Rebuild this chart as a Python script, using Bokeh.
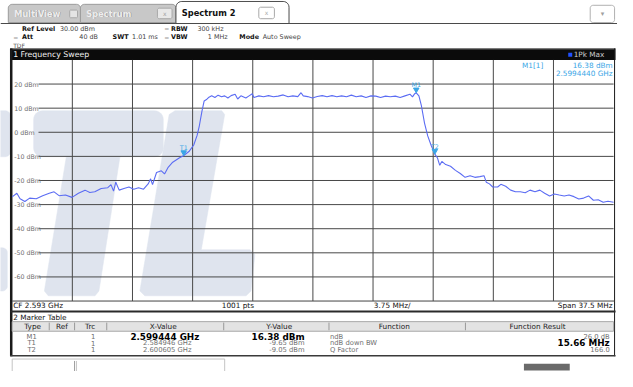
import math
from bokeh.plotting import figure
from bokeh.models import Range1d
from bokeh.embed import file_html
from bokeh.resources import INLINE
from bokeh.core.properties import value

# ---------------- data ----------------
freq_mhz = [
    2574.25, 2574.54, 2574.74, 2575.04, 2575.34, 2575.75, 2576.15, 2576.56, 2576.86, 2577.17,
    2577.57, 2577.98, 2578.38, 2578.79, 2579.09, 2579.40, 2579.80, 2580.21, 2580.41, 2580.57,
    2580.71, 2580.92, 2581.22, 2581.53, 2581.83, 2582.13, 2582.44, 2582.74, 2582.88, 2583.00,
    2583.25, 2583.55, 2583.75, 2583.96, 2584.26, 2584.66, 2584.946, 2585.27, 2585.57, 2585.78,
    2585.92, 2586.08, 2586.22, 2586.39, 2586.49, 2586.69, 2586.89, 2587.09, 2587.30, 2587.50,
    2587.70, 2587.90, 2588.15, 2588.31, 2588.51, 2588.82, 2589.02, 2589.22, 2589.32, 2589.63,
    2589.93, 2590.23, 2590.54, 2590.84, 2591.15, 2591.45, 2591.75, 2592.06, 2592.26, 2592.40,
    2592.67, 2592.97, 2593.27, 2593.58, 2593.88, 2594.19, 2594.49, 2594.79, 2595.10, 2595.40,
    2595.70, 2596.01, 2596.31, 2596.62, 2596.92, 2597.22, 2597.53, 2597.83, 2598.14, 2598.44,
    2598.74, 2599.05, 2599.21, 2599.35, 2599.444, 2599.61, 2599.76, 2599.96, 2600.16, 2600.37,
    2600.605, 2600.77, 2600.91, 2601.04, 2601.28, 2601.58, 2601.89, 2602.19, 2602.49, 2602.80,
    2603.10, 2603.41, 2603.67, 2603.81, 2604.01, 2604.21, 2604.52, 2604.72, 2605.02, 2605.33,
    2605.63, 2605.93, 2606.24, 2606.54, 2606.85, 2607.15, 2607.45, 2607.76, 2608.06, 2608.36,
    2608.67, 2608.97, 2609.28, 2609.58, 2609.88, 2610.19, 2610.49, 2610.79, 2611.10, 2611.40,
    2611.75,
]
level_dbm = [
    -26.8, -25.3, -27.6, -28.7, -27.3, -27.6, -26.3, -25.3, -24.7, -26.3,
    -26.0, -27.0, -25.3, -24.0, -25.0, -24.7, -23.3, -23.0, -21.7, -24.4,
    -20.7, -24.0, -23.3, -22.7, -23.6, -23.0, -23.6, -21.3, -19.3, -21.7,
    -16.7, -16.0, -17.3, -14.7, -12.4, -10.7, -9.65, -8.0, -5.3, -1.3,
    2.7, 8.7, 13.0, 13.7, 14.4, 15.1, 14.4, 15.4, 14.7, 15.1,
    14.2, 15.2, 15.8, 13.8, 15.1, 14.2, 15.1, 16.0, 14.4, 15.1,
    14.7, 15.2, 14.7, 15.0, 15.5, 14.7, 15.1, 14.8, 16.4, 15.1,
    14.8, 14.2, 14.8, 15.2, 14.7, 15.2, 14.7, 15.1, 14.7, 15.4,
    14.7, 15.1, 14.4, 15.1, 15.0, 14.4, 15.0, 14.7, 15.0, 14.4,
    15.1, 15.8, 14.7, 16.0, 16.38, 15.1, 11.2, 3.8, -1.5, -5.4,
    -9.05, -10.7, -13.7, -12.1, -13.4, -14.1, -15.8, -17.1, -18.7, -18.0,
    -18.7, -18.4, -18.0, -20.7, -21.4, -22.7, -22.7, -21.6, -22.4, -24.0,
    -24.7, -24.7, -25.1, -24.0, -24.7, -24.0, -25.3, -26.4, -25.6, -26.0,
    -26.4, -26.0, -26.7, -27.7, -27.3, -26.4, -28.2, -28.0, -29.0, -28.6,
    -29.0,
]

center_mhz = 2593.0
span_mhz = 37.5
div_mhz = 3.75
ref_level_dbm = 30.0
bottom_level_dbm = -70.0
y_tick_values = [20, 10, 0, -10, -20, -30, -40, -50, -60]
y_tick_labels = ["20 dBm", "10 dBm", "0 dBm", "-10 dBm", "-20 dBm", "-30 dBm",
                 "-40 dBm", "-50 dBm", "-60 dBm"]

marker_names = ["M1", "T1", "T2"]
marker_freq_mhz = [2599.444, 2584.946, 2600.605]
marker_level_dbm = [16.38, -9.65, -9.05]

table_type = ["M1", "T1", "T2"]
table_trc = ["1", "1", "1"]
table_x = ["2.599444 GHz", "2.584946 GHz", "2.600605 GHz"]
table_y = ["16.38 dBm", "-9.65 dBm", "-9.05 dBm"]
table_func = ["ndB", "ndB down BW", "Q Factor"]
table_result = ["26.0 dB", "15.66 MHz", "166.0"]
table_bold = [True, False, False]
result_bold = [False, True, False]

# ---------------- layout (reference pixel frame) ----------------
W_REF, H_REF = 633, 387
PX0, PX1, PY0, PY1 = 12.0, 629.0, 62.0, 313.5
f_lo = center_mhz - span_mhz / 2
f_hi = center_mhz + span_mhz / 2
sx = span_mhz / (PX1 - PX0)
sy = (ref_level_dbm - bottom_level_dbm) / (PY1 - PY0)

p = figure(width=617, height=371, x_range=Range1d(0, W_REF), y_range=Range1d(H_REF, 0),
           output_backend="svg", toolbar_location=None, x_axis_type=None, y_axis_type=None,
           min_border=0, outline_line_color=None,
           background_fill_color="white", border_fill_color="white")
p.grid.visible = False
p.extra_x_ranges = {"f": Range1d(f_lo - PX0 * sx, f_hi + (W_REF - PX1) * sx)}
p.extra_y_ranges = {"db": Range1d(bottom_level_dbm - (H_REF - PY1) * sy,
                                  ref_level_dbm + PY0 * sy)}

FONT = value("DejaVu Sans")


def txt(x, y, s, size=7.0, color="#333333", bold=False, align="left", baseline="middle"):
    p.text(x=[x], y=[y], text=[s], text_font=FONT, text_font_size=f"{size}px",
           text_font_style="bold" if bold else "normal", text_color=color,
           text_align=align, text_baseline=baseline)


def rrect(x0, y0, x1, y1, r, corners=(1, 1, 1, 1)):
    pts = []

    def arc(cx, cy, a0, a1):
        for k in range(7):
            a = math.radians(a0 + (a1 - a0) * k / 6)
            pts.append((cx + r * math.cos(a), cy + r * math.sin(a)))
    if corners[0]:
        arc(x0 + r, y0 + r, 180, 270)
    else:
        pts.append((x0, y0))
    if corners[1]:
        arc(x1 - r, y0 + r, 270, 360)
    else:
        pts.append((x1, y0))
    if corners[2]:
        arc(x1 - r, y1 - r, 0, 90)
    else:
        pts.append((x1, y1))
    if corners[3]:
        arc(x0 + r, y1 - r, 90, 180)
    else:
        pts.append((x0, y1))
    return [q[0] for q in pts], [q[1] for q in pts]


def poly(xs_ys, fill, line=None, lw=1):
    xs, ys = xs_ys
    p.patch(xs, ys, fill_color=fill, line_color=line if line else fill,
            line_width=lw if line else 0.5)


# ---------------- watermark ----------------
WM = "#dfe4ee"
poly(rrect(34, 115, 167, 163, 9), WM)
poly(([68, 123, 101, 97, 49, 45], [160, 160, 303, 308, 308, 303]), WM)
poly(([179, 227, 230, 206, 256, 261, 257, 252, 148, 143, 173],
      [115, 115, 119, 260, 260, 265, 303, 308, 308, 303, 119]), WM)
poly(rrect(-6, 115, 10, 163, 5), WM)
poly(rrect(-6, 258, 7, 303, 5), WM)

# ---------------- tabs ----------------
poly(rrect(8, 4, 82, 23, 4, (1, 1, 0, 0)), "#c8c8c8", "#9c9c9c")
poly(rrect(82, 4, 180, 23, 4, (1, 1, 0, 0)), "#c8c8c8", "#9c9c9c")
for tx, s in [(14, "MultiView"), (88, "Spectrum")]:
    txt(tx + 0.6, 14.6, s, 8.3, "#8a8a8a", bold=True)
    txt(tx, 14, s, 8.3, "#eeeeee", bold=True)
poly(rrect(71, 10, 79, 18, 1), "#e4e4e4", "#a8a8a8")
poly(rrect(161, 8, 176, 19, 2), "#e8e8e8", "#a8a8a8")
txt(168.5, 13.5, "x", 6, "#a0a0a0", align="center")
poly(rrect(180, 1, 296, 24, 6, (1, 1, 0, 0)), "white", "#4a4a4a")
txt(186, 13, "Spectrum 2", 8.3, "#111111", bold=True)
poly(rrect(265, 7, 281, 19, 2), "white", "#a8a8a8")
txt(273, 13, "x", 6, "#a8a8a8", align="center")
p.segment(x0=[0, 296], x1=[180, 633], y0=[24, 24], y1=[24, 24], line_color="#4a4a4a", line_width=1)
poly(rrect(605, 5, 630, 23, 3), "white", "#b0b0b0")
txt(617.5, 14, "▾", 7, "#a0a0a0", align="center")

# ---------------- setting info ----------------
I1, I2, I3 = 29.5, 38.5, 46.5
FS = 6.4
txt(22, I1, "Ref Level", FS, "#111111", bold=True)
txt(61, I1, "30.00 dBm", FS, "#444444")
txt(168, I1, "=", 6, "#999999")
txt(175, I1, "RBW", FS, "#111111", bold=True)
txt(202, I1, "300 kHz", FS, "#444444")
txt(13, I2, "=", 6, "#999999")
txt(22, I2, "Att", FS, "#111111", bold=True)
txt(100, I2, "40 dB", FS, "#444444", align="right")
txt(115, I2, "SWT", FS, "#111111", bold=True)
txt(135, I2, "1.01 ms", FS, "#444444")
txt(168, I2, "=", 6, "#999999")
txt(175, I2, "VBW", FS, "#111111", bold=True)
txt(233, I2, "1 MHz", FS, "#444444", align="right")
txt(245, I2, "Mode", FS, "#111111", bold=True)
txt(269, I2, "Auto Sweep", FS, "#444444")
txt(13, I3, "TDF", 6, "#555555")

# ---------------- black title bar ----------------
p.quad(left=[10], right=[631], top=[50], bottom=[62], fill_color="#0b0b0b", line_color=None)
p.segment(x0=[10], x1=[631], y0=[50.5], y1=[50.5], line_color="#777777", line_width=1)
txt(13, 56.5, "1 Frequency Sweep", 7.8, "#f2f2f2")
p.scatter(x=[584.5], y=[56.5], size=4, marker="square", fill_color="#2050ff", line_color=None)
txt(588, 56.5, "1Pk Max", 7.3, "#cfcfcf")

# ---------------- grid ----------------
GRID = "#484848"
vgrid = [f_lo + div_mhz * k for k in range(1, 10)]
p.segment(x0=vgrid, x1=vgrid, y0=[ref_level_dbm] * len(vgrid), y1=[bottom_level_dbm] * len(vgrid),
          x_range_name="f", y_range_name="db", line_color=GRID, line_width=1)
p.segment(x0=[39] * len(y_tick_values), x1=[PX1] * len(y_tick_values),
          y0=y_tick_values, y1=y_tick_values, y_range_name="db",
          line_color=GRID, line_width=1)
p.text(x=[14] * len(y_tick_values), y=y_tick_values, text=y_tick_labels, y_range_name="db",
       text_font=FONT, text_font_size="6.3px", text_color="#6e6e6e",
       text_baseline="middle", text_align="left")
# frame edges
p.segment(x0=[11, 630], x1=[11, 630], y0=[50, 50], y1=[371, 371], line_color="#1a1a1a",
          line_width=[2.5, 1])

# ---------------- trace ----------------
p.line(freq_mhz, level_dbm, x_range_name="f", y_range_name="db",
       line_color="#5b6cf3", line_width=1.1)

# markers
MK = "#3aa6e6"
p.scatter(x=marker_freq_mhz, y=[v + 1.3 for v in marker_level_dbm], x_range_name="f",
          y_range_name="db", marker="inverted_triangle", size=5.5,
          fill_color=MK, line_color=MK)
p.text(x=marker_freq_mhz, y=marker_level_dbm, text=marker_names, x_range_name="f",
       y_range_name="db", y_offset=-8, text_font=FONT, text_font_size="6.3px",
       text_color=MK, text_align="center", text_baseline="middle")

# marker readout
txt(535, 67.5, "M1[1]", 7.3, MK)
txt(628, 67.5, f"{marker_level_dbm[0]:.2f} dBm", 7.3, MK, align="right")
txt(628, 76, f"{marker_freq_mhz[0] / 1000:.7f} GHz", 7.3, MK, align="right")

# ---------------- bottom info row ----------------
txt(13, 318.5, f"CF {center_mhz / 1000:.3f} GHz", 7.3, "#111111")
txt(227, 318.5, "1001 pts", 7.3, "#111111")
txt(383, 318.5, f"{div_mhz:.2f} MHz/", 7.3, "#111111")
txt(628, 318.5, f"Span {span_mhz:.1f} MHz", 7.3, "#111111", align="right")
p.segment(x0=[12], x1=[630], y0=[313.5], y1=[313.5], line_color="#444444", line_width=1)
p.segment(x0=[10], x1=[631], y0=[324.5], y1=[324.5], line_color="#2a2a2a", line_width=2)

# ---------------- marker table ----------------
txt(13, 330.5, "2 Marker Table", 7.3, "#111111")
p.quad(left=[12], right=[629], top=[335], bottom=[345], fill_color="#e3e3e3", line_color="#a8a8a8")
seps = [50, 76, 109, 229, 337, 477]
p.segment(x0=seps, x1=seps, y0=[336] * len(seps), y1=[344] * len(seps), line_color="#9a9a9a")
for cx, s in [(33, "Type"), (63, "Ref"), (92, "Trc"), (167, "X-Value"), (286, "Y-Value"),
              (404, "Function"), (551, "Function Result")]:
    txt(cx, 340, s, 7.3, "#222222", align="center")
rows_y = [350.5, 357.5, 364.5]
GRY = "#707070"
for i, ry in enumerate(rows_y):
    txt(32, ry, table_type[i], 6.8, GRY, align="center")
    txt(95, ry, table_trc[i], 6.8, GRY, align="center")
    if table_bold[i]:
        txt(204, ry, table_x[i], 8.8, "#000000", bold=True, align="right")
        txt(312, ry, table_y[i], 8.8, "#000000", bold=True, align="right")
    else:
        txt(196, ry, table_x[i], 6.8, GRY, align="right")
        txt(312, ry, table_y[i], 6.8, GRY, align="right")
    txt(338, ry, table_func[i], 6.8, GRY)
    if result_bold[i]:
        txt(625, ry, table_result[i], 8.8, "#000000", bold=True, align="right")
    else:
        txt(625, ry, table_result[i], 6.8, GRY, align="right")
p.segment(x0=[10], x1=[631], y0=[370.5], y1=[370.5], line_color="#3a3a3a", line_width=1.5)

# bottom strip
p.quad(left=[12], right=[230], top=[374], bottom=[388], fill_color="white", line_color="#c4c4c4")
p.segment(x0=[76], x1=[76], y0=[376], y1=[388], line_color="#9a9a9a")
p.segment(x0=[78], x1=[78], y0=[376], y1=[388], line_color="#c8c8c8")
p.quad(left=[537], right=[584], top=[379], bottom=[386], fill_color="#6a6a6a", line_color=None)

open("out.html", "w").write(file_html(p, INLINE))
